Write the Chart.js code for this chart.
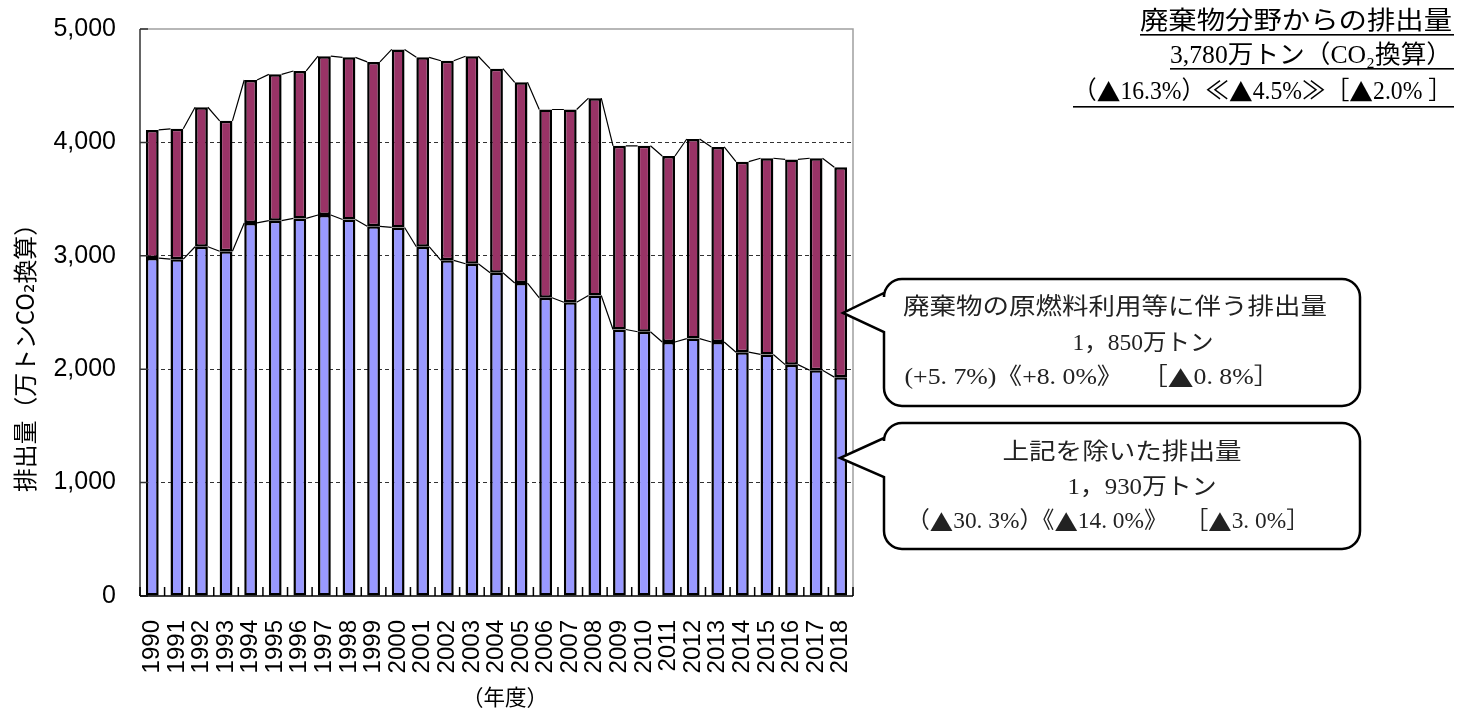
<!DOCTYPE html>
<html lang="ja">
<head>
<meta charset="utf-8">
<title>廃棄物分野からの排出量</title>
<script src="https://cdn.jsdelivr.net/npm/chart.js@4/dist/chart.umd.min.js"></script>
<style>
	html, body { margin: 0; padding: 0; background: #fff; }
	#canvas01 { display: block; }
</style>
</head>
<body>
<canvas id="canvas01" width="1458" height="711"></canvas>
<script>

// datos (万トンCO2)
var anioArray = ['1990', '1991', '1992', '1993', '1994', '1995', '1996', '1997', '1998', '1999',
	'2000', '2001', '2002', '2003', '2004', '2005', '2006', '2007', '2008', '2009',
	'2010', '2011', '2012', '2013', '2014', '2015', '2016', '2017', '2018'];

// 上記を除いた排出量
var restoArray = [2980, 2970, 3080, 3040, 3290, 3310, 3330, 3360, 3320, 3260,
	3250, 3080, 2960, 2930, 2850, 2760, 2630, 2590, 2650, 2350,
	2330, 2240, 2270, 2240, 2150, 2130, 2040, 1990, 1930];

// 廃棄物の原燃料利用等に伴う排出量
var combArray = [1130, 1150, 1230, 1150, 1260, 1290, 1300, 1400, 1430, 1450,
	1570, 1670, 1760, 1830, 1800, 1770, 1660, 1700, 1740, 1620,
	1640, 1640, 1760, 1720, 1680, 1730, 1810, 1870, 1850];

var yMin = 0, yMax = 5000, yPaso = 1000;

var tituloLineas = ['廃棄物分野からの排出量', '3,780万トン（CO₂換算）', '（▲16.3%）≪▲4.5%≫［▲2.0% ］'];
var globo1Lineas = ['廃棄物の原燃料利用等に伴う排出量', '1，850万トン', '(+5. 7%)《+8. 0%》　 ［▲0. 8%］'];
var globo2Lineas = ['上記を除いた排出量', '1，930万トン', '（▲30. 3%）《▲14. 0%》　 ［▲3. 0%］'];
var ejeYTitulo = '排出量（万トンCO₂換算）';
var ejeXTitulo = '（年度）';

var fuenteSerif = '"Liberation Serif", "Noto Sans CJK JP", "DejaVu Sans"';
var fuenteSans = '"Noto Sans CJK JP", "DejaVu Sans"';

// escribe un texto estirado en horizontal hasta el ancho indicado
function textoAjustado(ctx, texto, xa, yc, ancho, fuente, align) {
	ctx.save();
	ctx.font = fuente;
	var w = ctx.measureText(texto).width;
	ctx.translate(xa, yc);
	ctx.scale(ancho / w, 1);
	ctx.textAlign = align;
	ctx.textBaseline = 'middle';
	ctx.fillText(texto, 0, 0);
	ctx.restore();
}

// igual, pero el ▲ sale con la fuente CJK (ancho completo)
function textoRuns(ctx, texto, xa, yc, ancho, tam, align) {
	var runs = [], total = 0;
	for (const ch of texto) {
		var f = ch === '▲' ? fuenteSans : fuenteSerif;
		if (runs.length && runs[runs.length - 1].f === f) {
			runs[runs.length - 1].t += ch;
		} else {
			runs.push({ t: ch, f: f });
		}
	}
	runs.forEach(function (r) {
		ctx.font = tam + 'px ' + r.f;
		r.w = ctx.measureText(r.t).width;
		total += r.w;
	});
	var x0 = align === 'right' ? -total : (align === 'center' ? -total / 2 : 0);
	ctx.save();
	ctx.translate(xa, yc);
	ctx.scale(ancho / total, 1);
	ctx.textAlign = 'left';
	ctx.textBaseline = 'middle';
	runs.forEach(function (r) {
		ctx.font = tam + 'px ' + r.f;
		ctx.fillText(r.t, x0, 0);
		x0 += r.w;
	});
	ctx.restore();
}

function globo(ctx, L, T, R, B, r, tipX, tipY, baseTop, baseBot) {
	ctx.save();
	ctx.beginPath();
	ctx.moveTo(L, baseTop);
	ctx.lineTo(L, T + r);
	ctx.arcTo(L, T, L + r, T, r);
	ctx.lineTo(R - r, T);
	ctx.arcTo(R, T, R, T + r, r);
	ctx.lineTo(R, B - r);
	ctx.arcTo(R, B, R - r, B, r);
	ctx.lineTo(L + r, B);
	ctx.arcTo(L, B, L, B - r, r);
	ctx.lineTo(L, baseBot);
	ctx.lineTo(tipX, tipY);
	ctx.closePath();
	ctx.fillStyle = '#fff';
	ctx.fill();
	ctx.lineWidth = 2.5;
	ctx.strokeStyle = '#000';
	ctx.stroke();
	ctx.restore();
}

const marco_plot = {
	id: 'marco_plot',
	afterDatasetsDraw(chart) {
		const { ctx, chartArea: { left, top, right, bottom }, scales: { x, y } } = chart;
		ctx.save();
		ctx.lineWidth = 1.5;
		ctx.strokeStyle = '#a0a0a0';
		ctx.beginPath();
		ctx.moveTo(left, top);
		ctx.lineTo(right, top);
		ctx.lineTo(right, bottom);
		ctx.stroke();

		ctx.strokeStyle = '#333';
		ctx.beginPath();
		ctx.moveTo(left, top);
		ctx.lineTo(left, bottom);
		y.ticks.forEach(function (t) {
			var py = y.getPixelForValue(t.value);
			ctx.moveTo(left, py);
			ctx.lineTo(left + 8, py);
		});
		ctx.stroke();

		ctx.strokeStyle = '#000';
		ctx.beginPath();
		ctx.moveTo(left, bottom);
		ctx.lineTo(right, bottom);
		for (var i = 0; i <= anioArray.length; i++) {
			var px = x.getPixelForValue(i - 0.5);
			ctx.moveTo(px, bottom);
			ctx.lineTo(px, bottom - 9);
		}
		ctx.stroke();
		ctx.restore();
	}
};

// lineas de serie entre barras contiguas
const lineas_serie = {
	id: 'lineas_serie',
	afterDatasetsDraw(chart) {
		const { ctx } = chart;
		ctx.save();
		ctx.lineWidth = 1.2;
		ctx.strokeStyle = '#000';
		ctx.beginPath();
		chart.data.datasets.forEach(function (ds, d) {
			var meta = chart.getDatasetMeta(d);
			for (var i = 0; i < meta.data.length - 1; i++) {
				var a = meta.data[i], b = meta.data[i + 1];
				ctx.moveTo(a.x + a.width / 2, a.y);
				ctx.lineTo(b.x - b.width / 2, b.y);
			}
		});
		ctx.stroke();
		ctx.restore();
	}
};

const textos_extra = {
	id: 'textos_extra',
	afterDraw(chart) {
		const { ctx } = chart;
		ctx.save();
		ctx.fillStyle = '#000';

		// titulo arriba a la derecha, subrayado
		var tit = [
			{ y: 22, w: 312, u: 34 },
			{ y: 56, w: 282, u: 68 },
			{ y: 92, w: 379, u: 106 }
		];
		tit.forEach(function (p, i) {
			textoRuns(ctx, tituloLineas[i], 1452, p.y, p.w, 25, 'right');
			ctx.fillRect(1452 - p.w, p.u, p.w + 2, 1.6);
		});

		// ejes
		ctx.save();
		ctx.translate(25, 352);
		ctx.rotate(-Math.PI / 2);
		textoAjustado(ctx, ejeYTitulo, 0, 0, 280, '24px ' + fuenteSans, 'center');
		ctx.restore();
		textoAjustado(ctx, ejeXTitulo, 505, 697, 86, '22px ' + fuenteSans, 'center');

		// globos
		globo(ctx, 884, 279, 1360, 406, 18, 843, 313, 293, 332);
		globo(ctx, 884, 423, 1360, 549, 18, 840, 458, 438, 477);

		ctx.fillStyle = '#222';
		var g1 = [{ x: 1115, y: 308, w: 424 }, { x: 1143, y: 344, w: 141 }, { x: 1092, y: 378, w: 375 }];
		var g2 = [{ x: 1122, y: 453, w: 239 }, { x: 1142, y: 488, w: 149 }, { x: 1108, y: 522, w: 403 }];
		g1.forEach(function (p, i) {
			textoRuns(ctx, globo1Lineas[i], p.x, p.y, p.w, 23, 'center');
		});
		g2.forEach(function (p, i) {
			textoRuns(ctx, globo2Lineas[i], p.x, p.y, p.w, 23, 'center');
		});
		ctx.restore();
	}
};

var graf_bar1 = null;

function GrafEmision() {
	if (graf_bar1 != null) { graf_bar1.destroy(); }

	var chartData = {
		labels: anioArray,
		datasets: [{
			label: '上記を除いた排出量',
			data: restoArray,
			backgroundColor: '#9999FF',
			borderColor: '#000',
			borderWidth: 2.5,
			borderSkipped: false,
		},
		{
			label: '廃棄物の原燃料利用等に伴う排出量',
			data: combArray,
			backgroundColor: '#993366',
			borderColor: '#000',
			borderWidth: 2.5,
			borderSkipped: false,
		}]
	};

	var config01 = {
		type: 'bar',
		data: chartData,
		options: {
			responsive: false,
			animation: false,
			datasets: {
				bar: {
					barPercentage: 0.52,
					categoryPercentage: 1,
				}
			},
			layout: {
				padding: { left: 0, right: 605, top: 29, bottom: 0 }
			},
			plugins: {
				legend: { display: false },
				tooltip: { enabled: false },
				title: { display: false },
			},
			scales: {
				x: {
					stacked: true,
					grid: { display: false },
					border: { display: false },
					ticks: {
						color: '#000',
						font: { family: 'Liberation Sans', size: 24 },
						minRotation: 90,
						maxRotation: 90,
						autoSkip: false,
						padding: 16,
					},
					afterFit: function (s) { s.height = 115; },
				},
				y: {
					stacked: true,
					min: yMin,
					max: yMax,
					ticks: {
						stepSize: yPaso,
						color: '#000',
						font: { family: 'Liberation Sans', size: 25 },
						padding: 24,
						callback: function (v) { return v.toLocaleString('en-US'); },
					},
					grid: {
						color: function (c) {
							return (c.tick.value === yMin || c.tick.value === yMax) ? 'rgba(0,0,0,0)' : '#333';
						},
						lineWidth: 1,
						drawTicks: false,
					},
					border: { display: false, dash: [4, 3] },
					afterFit: function (s) {
						s.width = 140;
						s.paddingTop = 0;
						s.paddingBottom = 0;
					},
				}
			}
		},
		plugins: [marco_plot, lineas_serie, textos_extra]
	};

	var ctx01 = document.getElementById('canvas01').getContext('2d');
	graf_bar1 = new Chart(ctx01, config01);
}

GrafEmision();
</script>
</body>
</html>
